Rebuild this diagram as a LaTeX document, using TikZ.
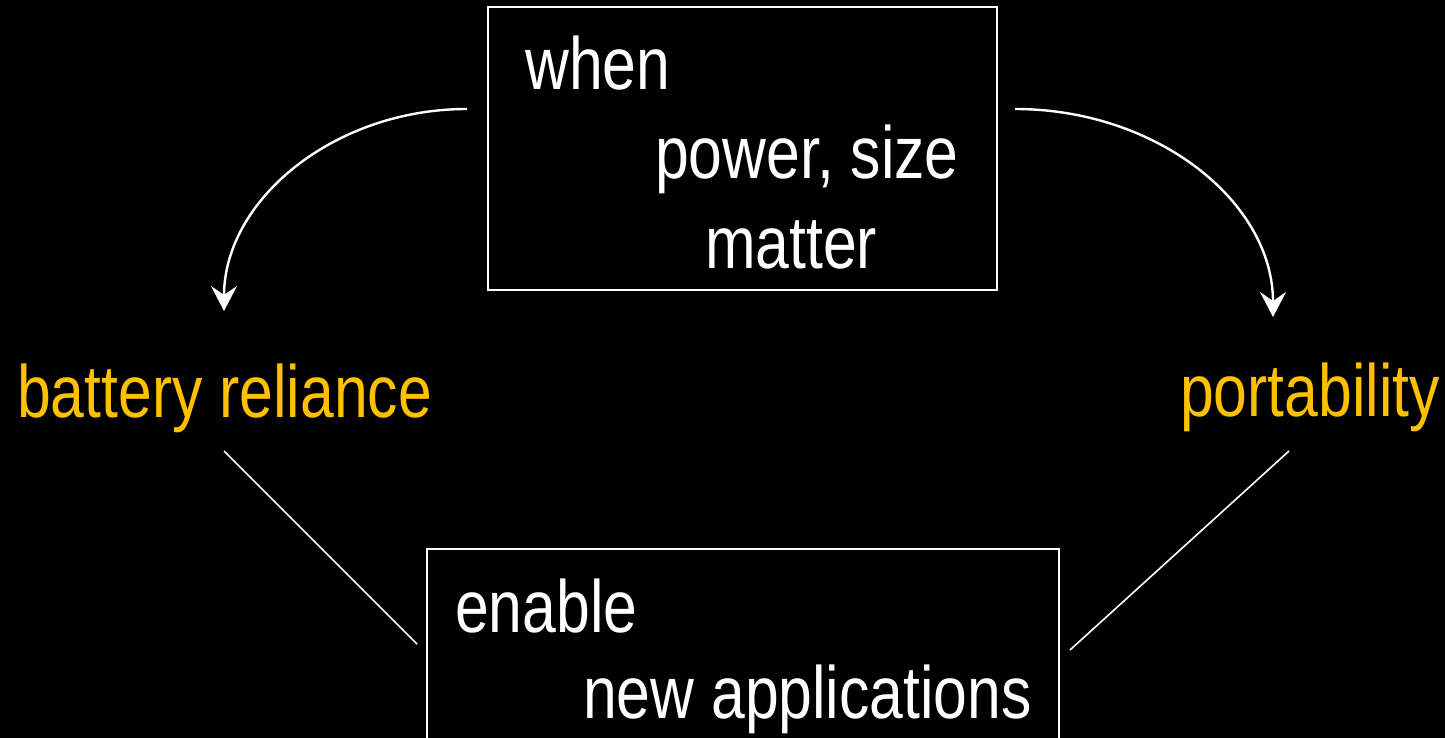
\documentclass[tikz,border=0pt]{standalone}
\usepackage{fontspec}
\setmainfont{Liberation Sans}[FakeStretch=0.82]
\usetikzlibrary{arrows.meta}
\definecolor{gold}{HTML}{FFC000}
\begin{document}
\begin{tikzpicture}[x=1pt,y=-1pt,
  txt/.style={anchor=base west,inner sep=0pt,text=white,font=\fontsize{74}{89}\selectfont},
  lbl/.style={txt,text=gold},
  box/.style={draw=white,line width=1.6pt,inner sep=0pt},
  curvearrow/.style={draw=white,line width=2.4pt,-{Stealth[length=25pt,width=26pt,inset=9pt]}},
  link/.style={draw=white,line width=1.6pt}]
\fill[black] (0,0) rectangle (1445,738);
\useasboundingbox (0,0) rectangle (1445,738);
\clip (0,0) rectangle (1445,738);
% boxes
\node[box,minimum width=509pt,minimum height=283pt] (topbox) at (742.5,148.5) {};
\node[box,minimum width=632pt,minimum height=220pt] (botbox) at (743,659) {};
% texts
\node[txt] (when) at (525,90) {when};
\node[txt] (power) at (655,179) {power, size};
\node[txt] (matter) at (705,268) {matter};
\node[txt] (enable) at (455,632) {enable};
\node[txt] (newapp) at (583,718) {new applications};
\node[lbl] (battery) at (17,417) {battery reliance};
\node[lbl] (port) at (1180,416) {portability};
% connector ends
\coordinate (la) at (467,109);
\coordinate (lb) at (224,311);
\coordinate (ra) at (1015,109);
\coordinate (rb) at (1273,317);
\coordinate (lc) at (224,451);
\coordinate (ld) at (417,644);
\coordinate (rc) at (1289,451);
\coordinate (rd) at (1070,650);
% connectors
\draw[curvearrow] (la) .. controls (334,109) and (224,200) .. (lb);
\draw[curvearrow] (ra) .. controls (1157,109) and (1273,202) .. (rb);
\draw[link] (lc) -- (ld);
\draw[link] (rc) -- (rd);
\end{tikzpicture}
\end{document}
